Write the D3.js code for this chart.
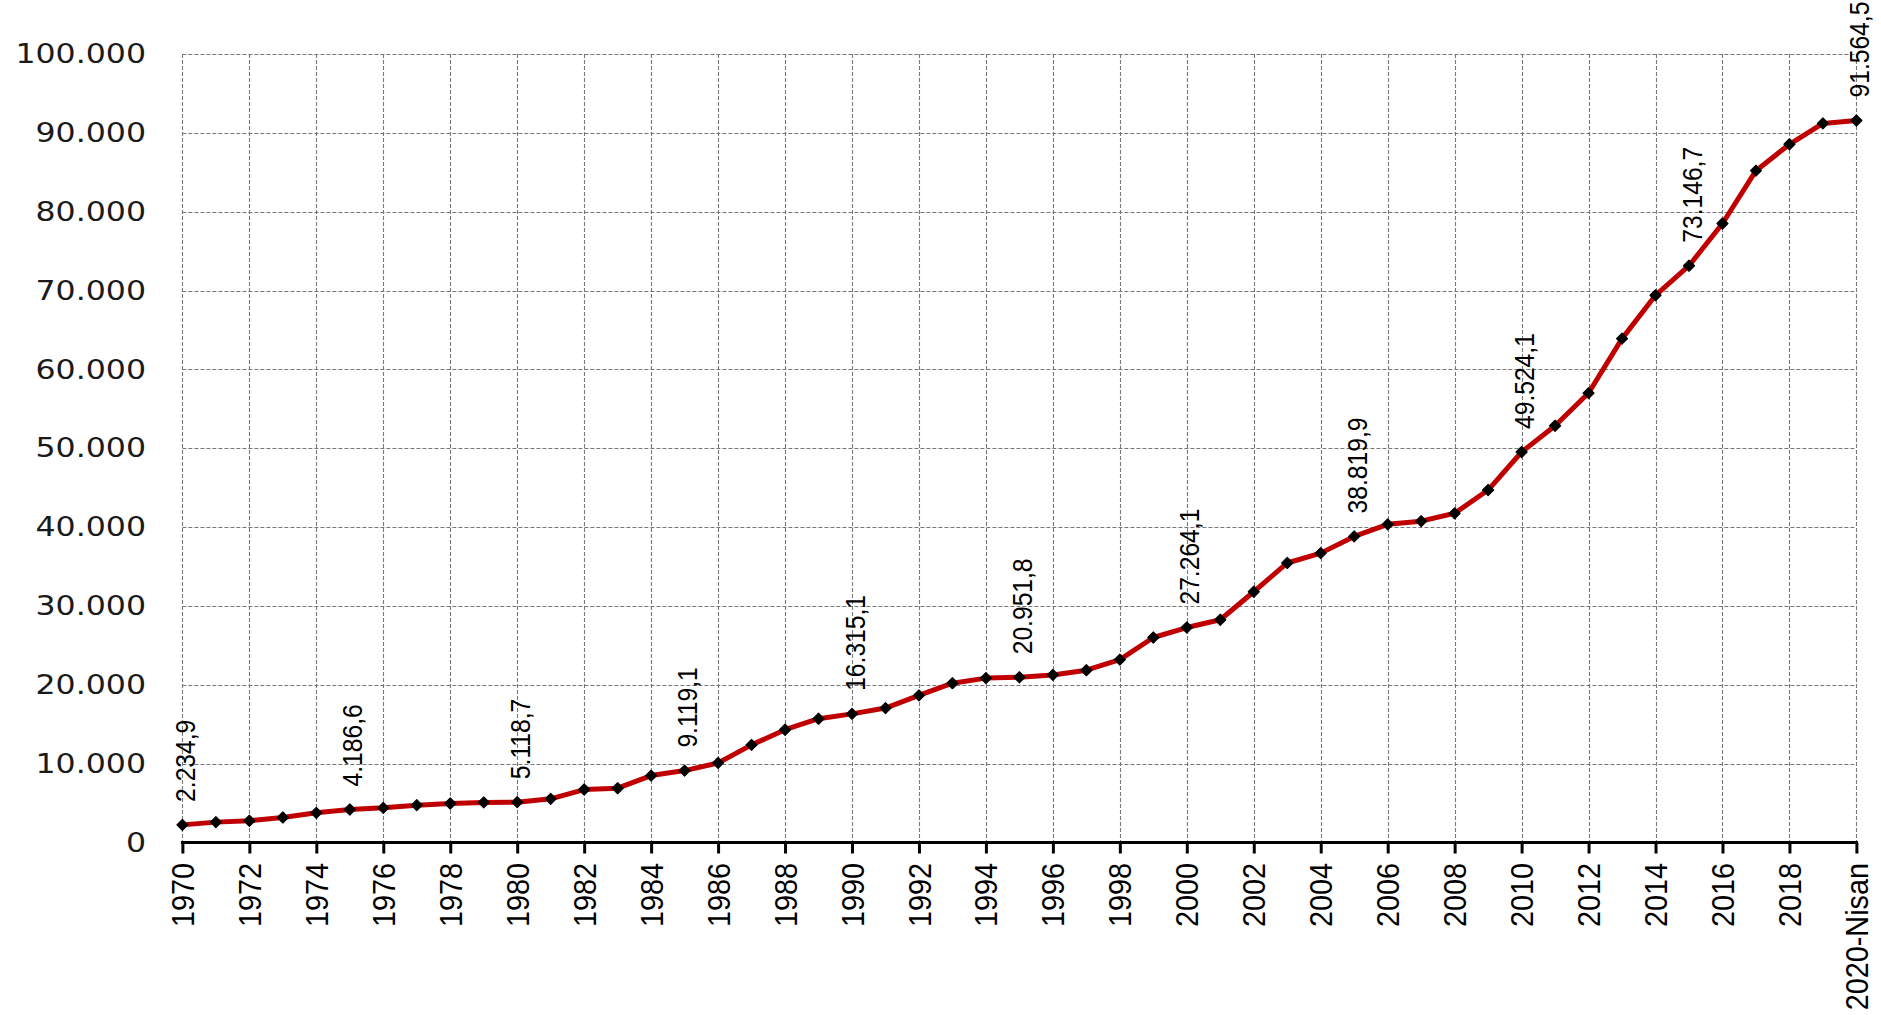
<!DOCTYPE html>
<html>
<head>
<meta charset="utf-8">
<script src="https://cdn.jsdelivr.net/npm/d3@7"></script>
<style>
  html, body { margin: 0; padding: 0; background: #fff; }
  svg { display: block; }
</style>
</head>
<body>
<svg id="chart" width="1881" height="1015"></svg>
<script>
// ---- data ----
const years = [1970,1971,1972,1973,1974,1975,1976,1977,1978,1979,
               1980,1981,1982,1983,1984,1985,1986,1987,1988,1989,
               1990,1991,1992,1993,1994,1995,1996,1997,1998,1999,
               2000,2001,2002,2003,2004,2005,2006,2007,2008,2009,
               2010,2011,2012,2013,2014,2015,2016,2017,2018,2019,2020];
const values = [2234.9,2584,2753,3175,3765,4186.6,4397,4735,4945,5080,
                5118.7,5536,6716,6885,8487,9119.1,10089,12380,14300,15700,
                16315.1,17050,18650,20200,20850,20951.8,21250,21850,23200,26000,
                27264.1,28250,31800,35450,36700,38819.9,40350,40750,41750,44700,
                49524.1,52850,57000,63900,69400,73146.7,78500,85200,88550,91200,91564.5];
const labeledYears = [1970,1975,1980,1985,1990,1995,2000,2005,2010,2015,2020];
const xTickYears = [1970,1972,1974,1976,1978,1980,1982,1984,1986,1988,1990,1992,1994,1996,1998,
                    2000,2002,2004,2006,2008,2010,2012,2014,2016,2018,2020];
const xTickLabels = ["1970","1972","1974","1976","1978","1980","1982","1984","1986","1988","1990",
                     "1992","1994","1996","1998","2000","2002","2004","2006","2008","2010","2012",
                     "2014","2016","2018","2020-Nisan"];
const yTicks = [0,10000,20000,30000,40000,50000,60000,70000,80000,90000,100000];

// ---- setup ----
(function () {
const svg = d3.select("#chart");
const pL = 182.4, pR = 1856.4, pT = 54, pB = 842.5;
const x = d3.scaleLinear().domain([1970, 2020]).range([pL, pR]);
const y = d3.scaleLinear().domain([0, 100000]).range([pB, pT]);
const tr = d3.formatLocale({decimal: ",", thousands: ".", grouping: [3], currency: ["", ""]});
const fmtY = tr.format(",.0f");
const fmtV = tr.format(",.1f");
const data = years.map((yr, i) => ({year: yr, value: values[i]}));

// gridlines
const grid = svg.append("g").attr("stroke", "#777").attr("stroke-width", 1.1)
  .attr("stroke-dasharray", "4,2").attr("fill", "none");
grid.selectAll("line.h").data(yTicks.filter(v => v > 0)).join("line").attr("class", "h")
  .attr("x1", pL).attr("x2", pR)
  .attr("y1", d => Math.round(y(d)) + 0.5).attr("y2", d => Math.round(y(d)) + 0.5);
grid.selectAll("line.v").data(xTickYears).join("line").attr("class", "v")
  .attr("y1", pT).attr("y2", pB)
  .attr("x1", d => Math.round(x(d)) + 0.5).attr("x2", d => Math.round(x(d)) + 0.5);

// y-axis labels
svg.append("g").selectAll("text").data(yTicks).join("text")
  .attr("transform", d => `translate(146,${y(d)}) scale(1.17,1)`)
  .attr("text-anchor", "end")
  .attr("dominant-baseline", "central")
  .attr("font-family", "'DejaVu Sans', Verdana, sans-serif")
  .attr("font-size", 27)
  .attr("fill", "#1a1a1a")
  .text(d => fmtY(d));

// x axis line and ticks
const xAxis = d3.axisBottom(x).tickValues(xTickYears).tickSize(11).tickFormat("");
const gx = svg.append("g").attr("transform", `translate(0,${pB})`).call(xAxis);
gx.select(".domain").attr("stroke", "#000").attr("stroke-width", 3)
  .attr("d", `M${pL - 1.5},0H${pR + 1.5}`);
gx.selectAll(".tick line").attr("stroke", "#000").attr("stroke-width", 3);

// x labels
svg.append("g").selectAll("text").data(xTickYears).join("text")
  .attr("transform", (d) => `translate(${x(d)},863) rotate(-90) scale(0.9,1)`)
  .attr("text-anchor", "end")
  .attr("dominant-baseline", "central")
  .attr("font-family", "'Liberation Sans', Arial, sans-serif")
  .attr("font-size", 32)
  .attr("fill", "#000")
  .text((d, i) => xTickLabels[i]);

// line
const line = d3.line().x(d => x(d.year)).y(d => y(d.value));
svg.append("path").datum(data)
  .attr("fill", "none")
  .attr("stroke", "#c00000")
  .attr("stroke-width", 5)
  .attr("stroke-linejoin", "round")
  .attr("d", line);

// markers (diamonds)
const diamond = "M0,-5.5L5.5,0L0,5.5L-5.5,0Z";
svg.append("g").selectAll("path").data(data).join("path")
  .attr("transform", d => `translate(${x(d.year)},${y(d.value)})`)
  .attr("d", diamond)
  .attr("fill", "#000")
  .attr("stroke", "#000")
  .attr("stroke-width", 1.2)
  .attr("stroke-linejoin", "round");

// value labels
svg.append("g").selectAll("text").data(data.filter(d => labeledYears.includes(d.year))).join("text")
  .attr("transform", d => `translate(${x(d.year) + 3},${y(d.value) - 23}) rotate(-90) scale(0.88,1)`)
  .attr("text-anchor", "start")
  .attr("dominant-baseline", "central")
  .attr("font-family", "'Liberation Sans', Arial, sans-serif")
  .attr("font-size", 28)
  .attr("fill", "#000")
  .text(d => fmtV(d.value));
})();
</script>
</body>
</html>
